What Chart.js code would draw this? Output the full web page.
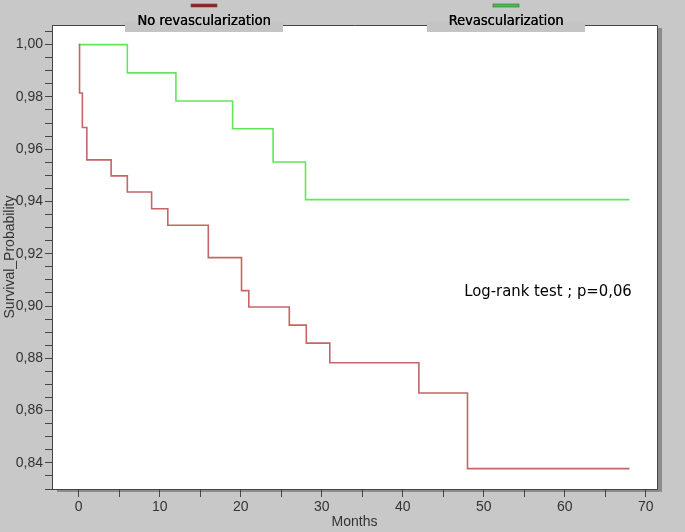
<!DOCTYPE html>
<html>
<head>
<meta charset="utf-8">
<script src="https://cdn.jsdelivr.net/npm/chart.js@4.4.0/dist/chart.umd.min.js"></script>
<style>
  html, body { margin: 0; padding: 0; background: #c8c8c8; }
  canvas { display: block; }
</style>
</head>
<body>
<canvas id="kmChart" width="685" height="532"></canvas>
<script>
// Kaplan-Meier steps (months, survival probability)
const noRevascMonths = [0, 0.1, 0.45, 1.0, 4.0, 6.0, 9.0, 11.0, 16.0, 20.1, 21.0, 26.0, 28.1, 31.0, 42.0, 48.0, 68.0];
const noRevascSurv = [1.000, 0.9815, 0.9683, 0.9559, 0.9498, 0.9436, 0.9372, 0.9309, 0.9185, 0.9059, 0.8996, 0.8927, 0.8858, 0.8783, 0.8667, 0.8378, 0.8378];
const revascMonths = [0, 6.0, 12.0, 19.0, 24.0, 28.0, 68.0];
const revascSurv = [1.000, 0.9892, 0.9784, 0.9678, 0.9551, 0.9407, 0.9407];

const seriesNames = ["No revascularization", "Revascularization"];
const seriesColors = ["#c46666", "#62e65a"];
const markerColors = ["#a01c1c", "#3cc83c"];

const xTicks = [0, 5, 10, 15, 20, 25, 30, 35, 40, 45, 50, 55, 60, 65, 70];
const xLabelTicks = [0, 10, 20, 30, 40, 50, 60, 70];
const yTicks = [0.830, 0.835, 0.840, 0.845, 0.850, 0.855, 0.860, 0.865, 0.870, 0.875,
                0.880, 0.885, 0.890, 0.895, 0.900, 0.905, 0.910, 0.915, 0.920, 0.925,
                0.930, 0.935, 0.940, 0.945, 0.950, 0.955, 0.960, 0.965, 0.970, 0.975,
                0.980, 0.985, 0.990, 0.995, 1.000, 1.005];
const yLabelTicks = [0.84, 0.86, 0.88, 0.90, 0.92, 0.94, 0.96, 0.98, 1.00];

const annotationText = "Log-rank test ; p=0,06";

function toPoints(xs, ys) {
  return xs.map((x, i) => ({ x: x, y: ys[i] }));
}

function isLabelled(list, v) {
  return list.some(t => Math.abs(t - v) < 1e-6);
}

// grey page, white plot, drop shadow, tabs for the legend and the annotation
const framePlugin = {
  id: "frame",
  beforeDraw(chart) {
    const c = chart.ctx;
    const a = chart.chartArea;
    c.save();
    c.fillStyle = "#c8c8c8";
    c.fillRect(0, 0, chart.width, chart.height);
    c.fillStyle = "#8c8c8c";
    c.fillRect(a.right, a.top + 3, 5, a.bottom - a.top);
    c.fillRect(a.left + 5, a.bottom, a.right - a.left, 3);
    c.fillStyle = "#ffffff";
    c.fillRect(a.left, a.top, a.right - a.left, a.bottom - a.top);
    c.restore();
  },
  afterDraw(chart) {
    const c = chart.ctx;
    const a = chart.chartArea;
    c.save();
    c.strokeStyle = "#444";
    c.lineWidth = 1;
    c.beginPath();
    c.moveTo(a.left, a.top + 0.5);
    c.lineTo(a.right + 0.5, a.top + 0.5);
    c.lineTo(a.right + 0.5, a.bottom);
    c.stroke();

    // legend tabs
    const tabs = [
      { x0: 125, x1: 283 },
      { x0: 427, x1: 585 }
    ];
    c.font = "14.5px 'DejaVu Sans Condensed', 'DejaVu Sans', sans-serif";
    c.textAlign = "center";
    c.textBaseline = "middle";
    chart.data.datasets.forEach((ds, i) => {
      const t = tabs[i];
      c.fillStyle = "#c4c4c4";
      c.fillRect(t.x0, a.top - 3, t.x1 - t.x0, 10);
      const mid = (t.x0 + t.x1) / 2;
      c.fillStyle = "#000";
      c.fillText(ds.label, mid, 21);
      c.fillText(ds.label, mid + 0.3, 21);
      c.fillStyle = markerColors[i];
      c.fillRect(mid - 13, 4, 26, 3);
      c.strokeStyle = "#555";
      c.lineWidth = 0.6;
      c.strokeRect(mid - 13, 4, 26, 3);
    });

    c.fillStyle = "#000";
    c.font = "16.5px 'DejaVu Sans Condensed', 'DejaVu Sans', sans-serif";
    c.fillText(annotationText, 548, 292);
    c.restore();
  }
};

const tickFont = { family: "'Liberation Sans', Arial, sans-serif", size: 14 };

const kmCtx = document.getElementById("kmChart").getContext("2d");
const kmChart = new Chart(kmCtx, {
  type: "line",
  data: {
    datasets: [
      {
        label: seriesNames[0],
        data: toPoints(noRevascMonths, noRevascSurv),
        borderColor: seriesColors[0],
        borderWidth: 1.6,
        stepped: true,
        pointRadius: 0,
        fill: false
      },
      {
        label: seriesNames[1],
        data: toPoints(revascMonths, revascSurv),
        borderColor: seriesColors[1],
        borderWidth: 1.6,
        stepped: true,
        pointRadius: 0,
        fill: false
      }
    ]
  },
  options: {
    responsive: false,
    animation: false,
    devicePixelRatio: 1,
    layout: { padding: { top: 25, right: 28, left: 0, bottom: 0 } },
    plugins: {
      legend: { display: false },
      tooltip: { enabled: false }
    },
    scales: {
      x: {
        type: "linear",
        min: -3.3,
        max: 71.4,
        afterBuildTicks: s => { s.ticks = xTicks.map(v => ({ value: v })); },
        afterFit: s => { s.height = 43; },
        grid: { drawOnChartArea: false, tickLength: 8, color: "#444", tickColor: "#444" },
        border: { display: true, color: "#444" },
        ticks: {
          font: tickFont,
          color: "#333",
          padding: 2,
          maxRotation: 0,
          autoSkip: false,
          callback: v => isLabelled(xLabelTicks, v) ? String(v) : ""
        },
        title: {
          display: true,
          text: "Months",
          color: "#333",
          font: tickFont,
          padding: { top: 0, bottom: 1 }
        }
      },
      y: {
        type: "linear",
        min: 0.83,
        max: 1.0075,
        afterBuildTicks: s => { s.ticks = yTicks.map(v => ({ value: v })); },
        afterFit: s => { s.width = 52; },
        grid: { drawOnChartArea: false, tickLength: 7, color: "#444", tickColor: "#444" },
        border: { display: true, color: "#444" },
        ticks: {
          font: tickFont,
          color: "#333",
          padding: 2,
          autoSkip: false,
          callback: v => isLabelled(yLabelTicks, v) ? v.toFixed(2).replace(".", ",") : ""
        },
        title: {
          display: true,
          text: "Survival_Probability",
          color: "#333",
          font: tickFont,
          padding: { top: 2, bottom: 0 }
        }
      }
    }
  },
  plugins: [framePlugin]
});
</script>
</body>
</html>
